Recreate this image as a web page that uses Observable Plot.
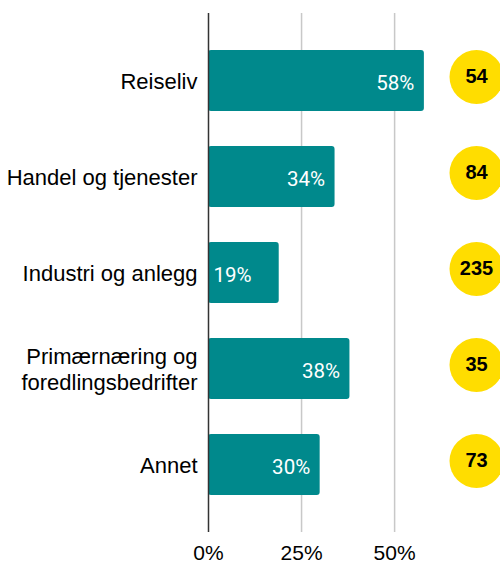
<!DOCTYPE html>
<html><head><meta charset="utf-8">
<script src="https://cdn.jsdelivr.net/npm/d3@7"></script>
<script src="https://cdn.jsdelivr.net/npm/@observablehq/plot@0.6"></script>
<style>body{margin:0;overflow:hidden;background:#fff}</style>
</head><body><div id="chart"></div>
<script>
const categories = ["Reiseliv", "Handel og tjenester", "Industri og anlegg", "Primærnæring og\nforedlingsbedrifter", "Annet"];
const shares = [0.58, 0.34, 0.19, 0.38, 0.30];
const counts = [54, 84, 235, 35, 73];
const xTicks = [0, 0.25, 0.5];

const data = categories.map((c, i) => ({category: c, share: shares[i], count: counts[i]}));
const pct = d3.format(".0%");

const chart = Plot.plot({
  width: 500, height: 565,
  marginLeft: 208, marginRight: 24, marginTop: 13, marginBottom: 33,
  style: {fontFamily: "'Liberation Sans', Arial, sans-serif", background: "#fff", color: "#000", overflow: "hidden"},
  x: {domain: [0, 0.72], ticks: xTicks, tickFormat: pct, label: null},
  y: {domain: categories, padding: 0.36, label: null},
  marks: [
    Plot.gridX(xTicks.filter(t => t > 0), {stroke: "#c8c8c8", strokeOpacity: 1, strokeWidth: 1.5}),
    Plot.barX(data, {y: "category", x: "share", fill: "#00898c", rx: 3}),
    Plot.ruleX([0], {stroke: "#333", strokeWidth: 1.5}),
    Plot.axisX({ticks: xTicks, tickFormat: pct, tickSize: 0, tickPadding: 13, fontSize: 21, label: null, color: "#000"}),
    Plot.axisY({tickSize: 0, tickPadding: 11, fontSize: 22, lineHeight: 1.15, label: null, color: "#000"}),
    Plot.text(data.filter(d => d.share >= 0.25), {y: "category", x: "share", text: d => pct(d.share), textAnchor: "end", dx: -10, dy: 2, fill: "white", fontSize: 20.5, fontFamily: "Roboto"}),
    Plot.text(data.filter(d => d.share < 0.25), {y: "category", frameAnchor: "left", text: d => pct(d.share), textAnchor: "start", dx: 5, dy: 2, fill: "white", fontSize: 20.5, fontFamily: "Roboto"}),
    Plot.dot(data, {y: "category", frameAnchor: "right", r: 27, fill: "#FFDD00", stroke: null, dy: -4}),
    Plot.text(data, {y: "category", frameAnchor: "right", text: "count", textAnchor: "middle", fontWeight: "bold", fontSize: 20, fill: "#000", dy: -4})
  ]
});
document.getElementById("chart").appendChild(chart);
</script>
</body></html>
